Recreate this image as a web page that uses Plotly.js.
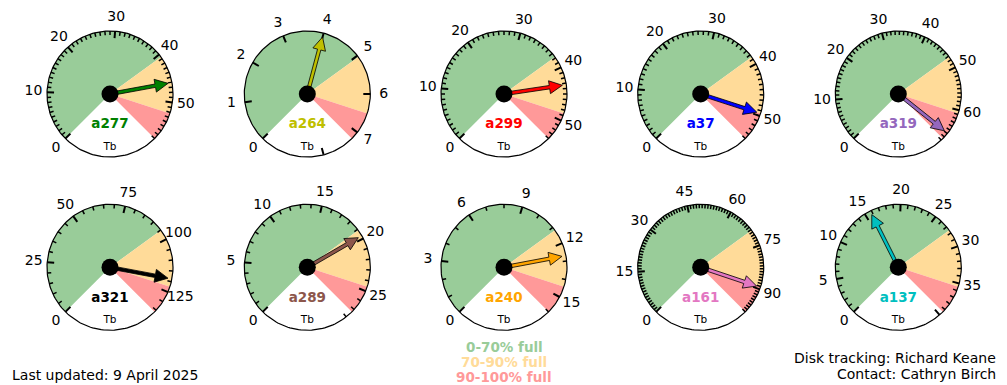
<!DOCTYPE html>
<html><head><meta charset="utf-8">
<script src="https://cdn.plot.ly/plotly-3.0.1.min.js"></script>
<style>html,body{margin:0;padding:0;background:#fff;overflow:hidden}</style>
</head><body><div id="chart" style="width:1007px;height:385px"></div>
<script>
// ---- data ----
const names    = ['a277','a264','a299','a37','a319','a321','a289','a240','a161','a137'];
const capacity = [58, 7.2, 54, 55, 67.5, 136, 27.3, 16, 99, 39.4];   // Tb
const used     = [46.1, 4.0, 43.3, 49.5, 65.9, 118.7, 19.7, 12.7, 89.3, 15.8]; // Tb
const majorStep = [10, 1, 10, 10, 10, 25, 5, 3, 15, 5];
const minorStep = [1, 1, 1, 1, 1, 5, 1, 1, 1, 1];
const arrowColors = ['#008000','#bfbf00','#ff0000','#0000ff','#9467bd','#000000','#8c564b','#ffa500','#e377c2','#00bfbf'];
const bandLimits = [0, 0.7, 0.9, 1.0];
const bandColors = ['#99cc99','#ffdb99','#ff9999'];
const bandLabels = ['0-70% full','70-90% full','90-100% full'];
const unitLabel = 'Tb';
const footLeft = 'Last updated: 9 April 2025';
const footRight = ['Disk tracking: Richard Keane','Contact: Cathryn Birch'];

// ---- layout constants ----
const W = 1007, H = 385;
const colX = [110, 307.3, 504, 700.7, 898.3];
const rowY = [94, 267.3];
const R = 63;
const FONT = 'DejaVu Sans, sans-serif';

function ang(v, M){ return (225 - 270 * v / M) * Math.PI / 180; }
function pt(cx, cy, r, a){ return [cx + r * Math.cos(a), cy - r * Math.sin(a)]; }

const traces = [];
const skip = {hoverinfo:'skip', showlegend:false};

names.forEach((name, i) => {
  const cx = colX[i % 5], cy = rowY[Math.floor(i / 5)];
  const M = capacity[i];
  // wedges
  for (let b = 0; b < 3; b++) {
    const a0 = ang(bandLimits[b] * M, M), a1 = ang(bandLimits[b + 1] * M, M);
    const xs = [cx], ys = [cy];
    const n = 40;
    for (let k = 0; k <= n; k++) {
      const p = pt(cx, cy, R, a0 + (a1 - a0) * k / n);
      xs.push(p[0]); ys.push(p[1]);
    }
    xs.push(cx); ys.push(cy);
    traces.push(Object.assign({type:'scatter', mode:'lines', x:xs, y:ys, fill:'toself',
      fillcolor:bandColors[b], line:{width:0, color:bandColors[b]}}, skip));
  }
  // circle outline
  const cxs = [], cys = [];
  for (let k = 0; k <= 180; k++) {
    const p = pt(cx, cy, R, 2 * Math.PI * k / 180);
    cxs.push(p[0]); cys.push(p[1]);
  }
  traces.push(Object.assign({type:'scatter', mode:'lines', x:cxs, y:cys, line:{color:'#000', width:1.2}}, skip));
  // ticks
  const tickMax = Math.ceil(M - 1e-9);
  const majX = [], majY = [], minX = [], minY = [];
  const labX = [], labY = [], labT = [];
  for (let v = 0; v <= tickMax + 1e-9; v += minorStep[i]) {
    const vv = Math.round(v * 1000) / 1000;
    const a = ang(vv, M);
    const isMajor = Math.abs(vv / majorStep[i] - Math.round(vv / majorStep[i])) < 1e-6;
    const len = isMajor ? 7 : 4;
    const p0 = pt(cx, cy, R - len, a), p1 = pt(cx, cy, R, a);
    if (isMajor) { majX.push(p0[0], p1[0], null); majY.push(p0[1], p1[1], null); }
    else { minX.push(p0[0], p1[0], null); minY.push(p0[1], p1[1], null); }
    if (isMajor && vv <= M + 1e-9) {
      const pl = pt(cx, cy, R + 13.5, a);
      labX.push(pl[0]); labY.push(pl[1]); labT.push(String(vv));
    }
  }
  traces.push(Object.assign({type:'scatter', mode:'lines', x:minX, y:minY, line:{color:'#000', width:1.5}}, skip));
  traces.push(Object.assign({type:'scatter', mode:'lines', x:majX, y:majY, line:{color:'#000', width:2}}, skip));
  traces.push(Object.assign({type:'scatter', mode:'text', x:labX, y:labY, text:labT, textposition:'middle center',
    textfont:{family:FONT, size:14, color:'#000'}, cliponaxis:false}, skip));
  // arrow
  const a = ang(used[i], M);
  const L = 59, hl = 13, hw = 6.5, sw = 1.7;
  const ux = Math.cos(a), uy = -Math.sin(a);      // direction in screen coords
  const nx = -uy, ny = ux;                         // normal
  const P = (d, s) => [cx + ux * d + nx * s, cy + uy * d + ny * s];
  const poly = [P(0, sw), P(L - hl, sw), P(L - hl, hw), P(L, 0), P(L - hl, -hw), P(L - hl, -sw), P(0, -sw), P(0, sw)];
  traces.push(Object.assign({type:'scatter', mode:'lines', x:poly.map(p => p[0]), y:poly.map(p => p[1]),
    fill:'toself', fillcolor:arrowColors[i], line:{color:'#000', width:0.8}}, skip));
  // centre dot
  traces.push(Object.assign({type:'scatter', mode:'markers', x:[cx], y:[cy],
    marker:{color:'#000', size:17, line:{width:0}}}, skip));
  // name and unit
  traces.push(Object.assign({type:'scatter', mode:'text', x:[cx], y:[cy + 31], text:['<b>' + name + '</b>'],
    textposition:'middle center', textfont:{family:FONT, size:13.5, color:arrowColors[i]}, cliponaxis:false}, skip));
  traces.push(Object.assign({type:'scatter', mode:'text', x:[cx], y:[cy + 53.5], text:[unitLabel],
    textposition:'middle center', textfont:{family:FONT, size:10.5, color:'#000'}, cliponaxis:false}, skip));
});

const annotations = [];
bandLabels.forEach((t, b) => {
  annotations.push({x:504, y:347 + 15 * b, xref:'x', yref:'y', text:'<b>' + t + '</b>', showarrow:false,
    xanchor:'center', yanchor:'middle', font:{family:FONT, size:13.5, color:bandColors[b]}});
});
annotations.push({x:10, y:374.5, xref:'x', yref:'y', text:footLeft, showarrow:false, xanchor:'left', yanchor:'middle',
  font:{family:FONT, size:14, color:'#000'}});
footRight.forEach((t, k) => {
  annotations.push({x:998, y:358 + 16 * k, xref:'x', yref:'y', text:t, showarrow:false, xanchor:'right', yanchor:'middle',
    font:{family:FONT, size:14, color:'#000'}});
});

const layout = {
  width:W, height:H, margin:{l:0, r:0, t:0, b:0},
  paper_bgcolor:'#fff', plot_bgcolor:'#fff', showlegend:false,
  xaxis:{range:[0, W], visible:false, fixedrange:true},
  yaxis:{range:[H, 0], visible:false, fixedrange:true},
  annotations:annotations
};
Plotly.newPlot('chart', traces, layout, {staticPlot:true, displayModeBar:false});
</script></body></html>
